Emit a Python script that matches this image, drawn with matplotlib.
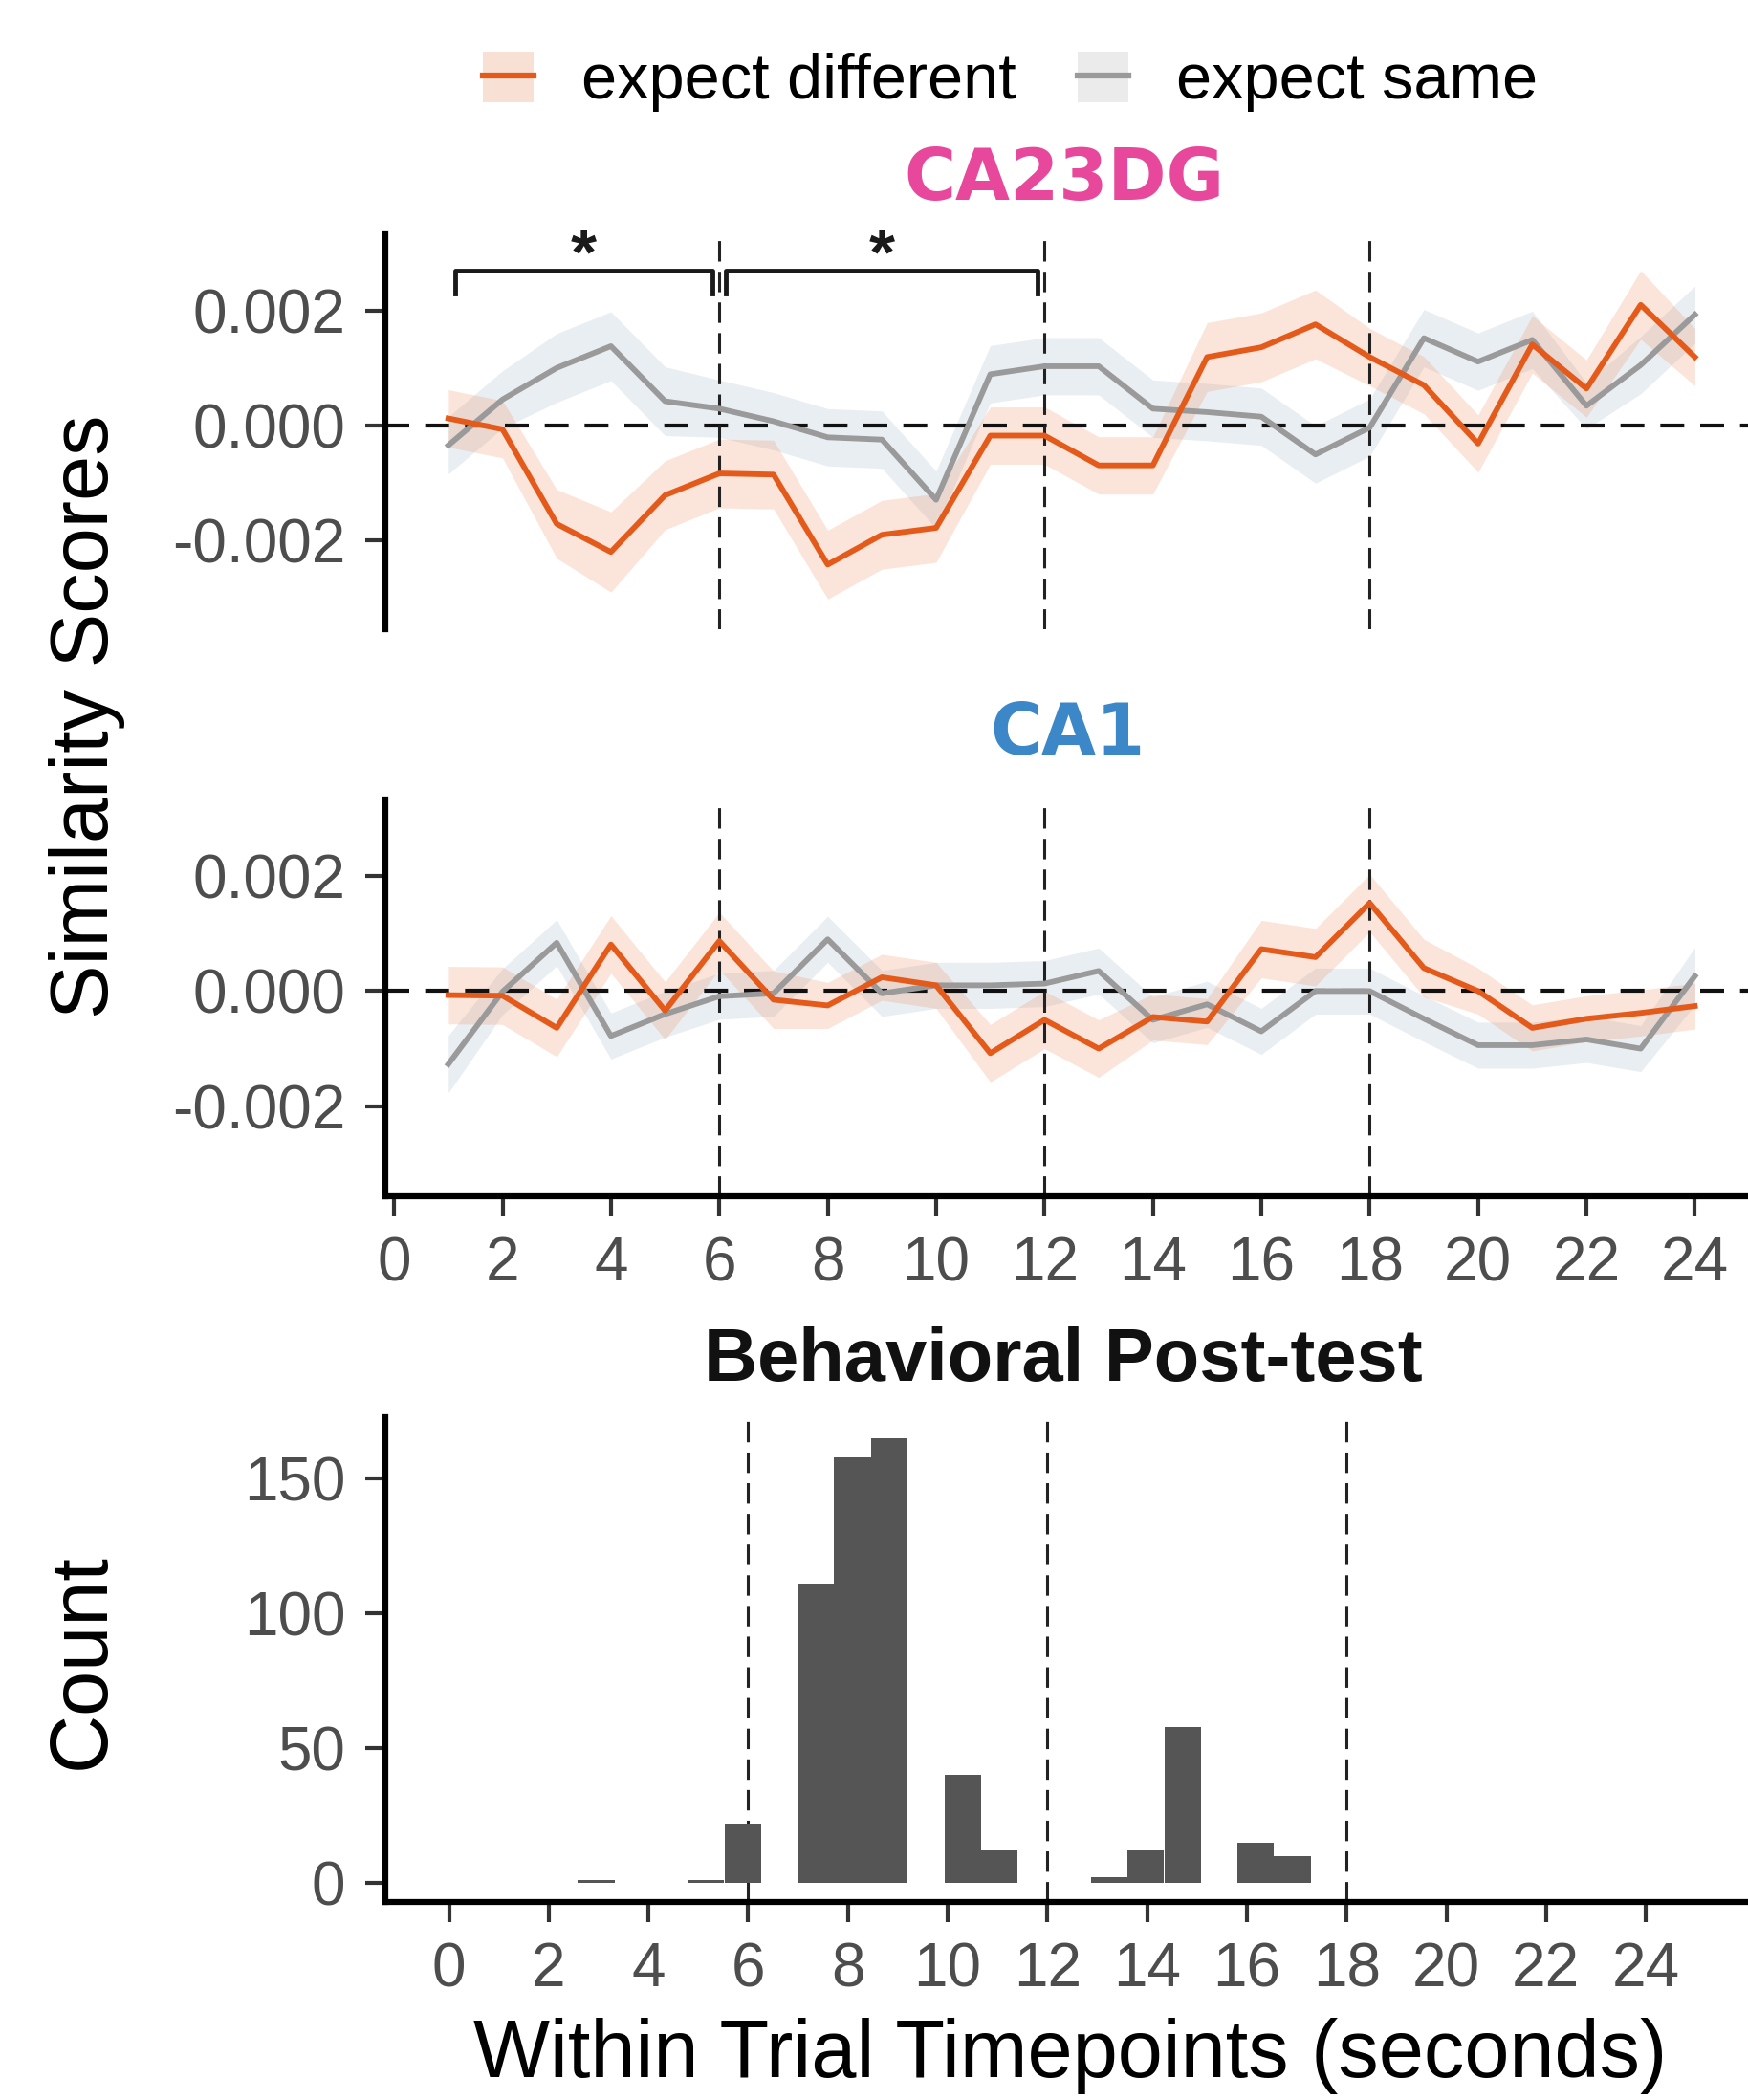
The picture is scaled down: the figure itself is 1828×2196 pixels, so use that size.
import numpy as np
import matplotlib.pyplot as plt
from matplotlib.lines import Line2D
from matplotlib.patches import Patch
from matplotlib.legend_handler import HandlerTuple

plt.rcParams['font.family'] = ['Liberation Sans', 'DejaVu Sans']
plt.rcParams['axes.unicode_minus'] = False

# ---- data ----
timepoints = list(range(1, 25))

ca23dg_diff = [0.00012, -0.00007, -0.00172, -0.00221, -0.00122, -0.00084, -0.00086, -0.00243,
               -0.00191, -0.00179, -0.00018, -0.00018, -0.00070, -0.00070, 0.00119, 0.00136,
               0.00176, 0.00119, 0.00070, -0.00032, 0.00141, 0.00064, 0.00210, 0.00119]
ca23dg_diff_se = [0.0005, 0.0005, 0.0006, 0.0007, 0.0006, 0.0006, 0.0006, 0.0006,
                  0.0006, 0.0006, 0.0005, 0.0005, 0.0005, 0.0005, 0.0006, 0.0006,
                  0.0006, 0.0005, 0.0005, 0.0005, 0.0005, 0.0005, 0.0006, 0.0005]
ca23dg_same = [-0.00035, 0.00045, 0.00100, 0.00138, 0.00042, 0.00029, 0.00007, -0.00021,
               -0.00025, -0.00130, 0.00089, 0.00103, 0.00103, 0.00029, 0.00023, 0.00015,
               -0.00051, -0.00004, 0.00152, 0.00111, 0.00149, 0.00034, 0.00105, 0.00193]
ca23dg_same_se = [0.0005, 0.0005, 0.0006, 0.0006, 0.0006, 0.0005, 0.0005, 0.0005,
                  0.0005, 0.0005, 0.0005, 0.0005, 0.0005, 0.0005, 0.0005, 0.0005,
                  0.0005, 0.0005, 0.0005, 0.0005, 0.0005, 0.0004, 0.0005, 0.0005]

ca1_diff = [-0.00007, -0.00008, -0.00064, 0.00081, -0.00034, 0.00087, -0.00015, -0.00025,
            0.00024, 0.00010, -0.00108, -0.00050, -0.00100, -0.00045, -0.00053, 0.00073,
            0.00059, 0.00153, 0.00040, 0.00000, -0.00064, -0.00048, -0.00038, -0.00026]
ca1_diff_se = [0.0005, 0.0005, 0.0005, 0.0005, 0.0005, 0.0005, 0.0005, 0.0004,
               0.0004, 0.0004, 0.0005, 0.0005, 0.0005, 0.0004, 0.0004, 0.0005,
               0.0005, 0.0005, 0.0005, 0.0004, 0.0004, 0.0004, 0.0004, 0.0004]
ca1_same = [-0.00127, -0.00001, 0.00084, -0.00078, -0.00040, -0.00009, -0.00004, 0.00090,
            -0.00004, 0.00010, 0.00010, 0.00013, 0.00035, -0.00050, -0.00023, -0.00070,
            0.00000, 0.00000, -0.00048, -0.00094, -0.00094, -0.00084, -0.00100, 0.00026]
ca1_same_se = [0.0005, 0.0004, 0.0004, 0.0004, 0.0004, 0.0004, 0.0004, 0.0004,
               0.0004, 0.0004, 0.0004, 0.0004, 0.0004, 0.0004, 0.0004, 0.0004,
               0.0004, 0.0004, 0.0004, 0.0004, 0.0004, 0.0004, 0.0004, 0.0005]

# significant windows (seconds) marked with brackets in CA23DG
sig_windows = [(1, 6), (6, 12)]
event_times = [6, 12, 18]

# behavioral post-test response-time histogram (bin centres in seconds, counts)
rt_bin_centers = [2.95, 5.15, 5.89, 7.36, 8.09, 8.83, 10.30, 11.03, 13.24, 13.97, 14.71, 16.18, 16.91]
rt_counts = [1, 1, 22, 111, 158, 165, 40, 12, 2, 12, 58, 15, 10]
rt_bin_width = 0.735

# ---- style ----
col_diff = '#E35A1A'
col_same = '#9A9A9A'
rib_diff = (0.93, 0.45, 0.20, 0.18)
rib_same = (0.70, 0.76, 0.83, 0.28)
tick_col = '#4D4D4D'
tick_fs = 46

fig = plt.figure(figsize=(18.28, 21.96), dpi=100)
left = 0.2205
ax1 = fig.add_axes([left, 0.7003, 1 - left, 0.1881])
ax2 = fig.add_axes([left, 0.4305, 1 - left, 0.1888])
ax3 = fig.add_axes([left, 0.0944, 1 - left, 0.2309])


def style_axes(ax, show_x=True):
    for s in ['top', 'right']:
        ax.spines[s].set_visible(False)
    ax.spines['left'].set_linewidth(4.5)
    ax.spines['left'].set_color('black')
    if show_x:
        ax.spines['bottom'].set_linewidth(4.5)
        ax.spines['bottom'].set_color('black')
    else:
        ax.spines['bottom'].set_visible(False)
    ax.tick_params(axis='both', length=15, width=3, color='#333333',
                   labelsize=tick_fs, labelcolor=tick_col, pad=15)
    if not show_x:
        ax.tick_params(axis='x', bottom=False, labelbottom=False)


for ax, diff, dse, same, sse in [(ax1, ca23dg_diff, ca23dg_diff_se, ca23dg_same, ca23dg_same_se),
                                 (ax2, ca1_diff, ca1_diff_se, ca1_same, ca1_same_se)]:
    t = np.array(timepoints)
    d, ds = np.array(diff), np.array(dse)
    s, ss = np.array(same), np.array(sse)
    ax.fill_between(t, s - ss, s + ss, color=rib_same, linewidth=0)
    ax.fill_between(t, d - ds, d + ds, color=rib_diff, linewidth=0)
    ax.axhline(0, color='#111111', lw=3.0, ls=(0, (6, 4)), zorder=2)
    for ev in event_times:
        ax.axvline(ev, color='#222222', lw=2.2, ls=(0, (7, 3.5)), zorder=2)
    ax.plot(t, s, color=col_same, lw=4.2, zorder=3)
    ax.plot(t, d, color=col_diff, lw=4.2, zorder=4)
    ax.set_xlim(-0.16, 24.98)
    ax.set_ylim(-0.00356, 0.00333)
    ax.set_yticks([-0.002, 0.0, 0.002])
    ax.set_yticklabels(['-0.002', '0.000', '0.002'])
    ax.set_xticks(range(0, 25, 2))

style_axes(ax1, show_x=False)
style_axes(ax2, show_x=True)

# significance brackets
for lo, hi in sig_windows:
    x0, x1 = lo + 0.12, hi - 0.12
    ax1.plot([x0, x0, x1, x1], [0.00229, 0.0027, 0.0027, 0.00229],
             color='#1a1a1a', lw=3.5, clip_on=False, zorder=5)
    ax1.text((x0 + x1) / 2, 0.00240, '*', ha='center', va='bottom',
             fontsize=50, fontweight='bold', color='#1a1a1a')

# histogram
ax3.bar(rt_bin_centers, rt_counts, width=rt_bin_width, color='#555555', linewidth=0, zorder=3)
for ev in event_times:
    ax3.axvline(ev, color='#222222', lw=2.2, ls=(0, (7, 3.5)), zorder=2)
ax3.set_xlim(-1.276, 26.05)
ax3.set_ylim(-7, 173)
ax3.set_yticks([0, 50, 100, 150])
ax3.set_xticks(range(0, 25, 2))
style_axes(ax3, show_x=True)

# titles
fig.text(0.609, 0.914, 'CA23DG', ha='center', va='center', fontsize=53,
         fontweight='bold', color='#E8489B', family=['DejaVu Sans'])
fig.text(0.611, 0.650, 'CA1', ha='center', va='center', fontsize=53,
         fontweight='bold', color='#3C87C8', family=['DejaVu Sans'])
fig.text(0.608, 0.352, 'Behavioral Post-test', ha='center', va='center',
         fontsize=56, fontweight='bold', color='#111111')

# axis labels
fig.text(0.0498, 0.6588, 'Similarity Scores', rotation=90, ha='center', va='center',
         fontsize=61, color='black')
fig.text(0.0475, 0.2092, 'Count', rotation=90, ha='center', va='center',
         fontsize=61, color='black')
fig.text(0.612, 0.021, 'Within Trial Timepoints (seconds)', ha='center', va='center',
         fontsize=61, color='black')

# legend
h_diff = (Patch(facecolor='#F8E1D4', edgecolor='none'), Line2D([], [], color=col_diff, lw=4.5))
h_same = (Patch(facecolor='#EBEBEB', edgecolor='none'), Line2D([], [], color=col_same, lw=4.5))
fig.legend([h_diff, h_same], ['expect different', 'expect same'],
           handler_map={tuple: HandlerTuple(ndivide=1)},
           loc='center', bbox_to_anchor=(0.578, 0.961), ncol=2, frameon=False,
           fontsize=48, handlelength=0.8, handleheight=0.85, handletextpad=0.75,
           columnspacing=0.95)

fig.savefig('out.png', dpi=100)
plt.close(fig)
print('Saved: out.png')
